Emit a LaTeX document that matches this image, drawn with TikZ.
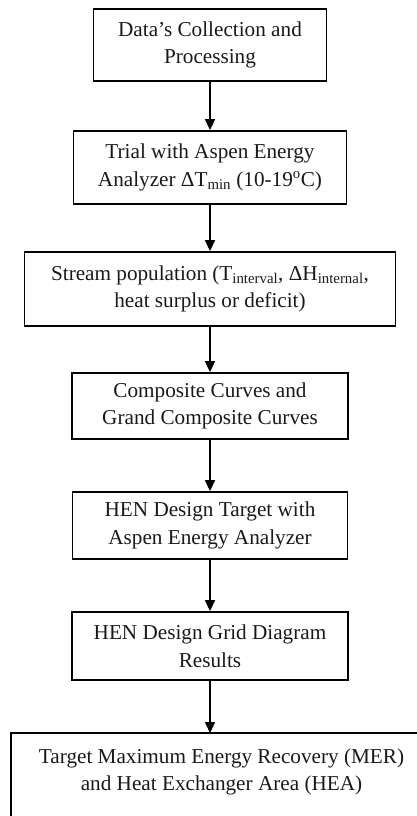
\documentclass[tikz,border=0pt]{standalone}
\usepackage{fontspec}
\setmainfont{Liberation Serif}
\usetikzlibrary{arrows.meta}
\begin{document}
\begin{tikzpicture}[x=1pt,y=-1pt,
  stepbox/.style={draw=black, line width=1.8pt, align=center, inner sep=0pt,
    font=\fontsize{21.2}{27.5}\selectfont, text=black!90},
  flow/.style={draw=black, line width=1.6pt, -{Triangle[width=10pt,length=11pt]}}]
  \useasboundingbox (0,0) rectangle (416,816);

  \node[stepbox, minimum width=233pt, minimum height=72pt] (b1) at (210,45)
    {Data's Collection and\\Processing};
  \node[stepbox, minimum width=273pt, minimum height=73pt] (b2) at (210,167.5)
    {Trial with Aspen Energy\\Analyzer ΔT\textsubscript{min} (10-19\textsuperscript{o}C)};
  \node[stepbox, minimum width=371pt, minimum height=74pt] (b3) at (210,289)
    {Stream population (T\textsubscript{interval}, ΔH\textsubscript{internal},\\heat surplus or deficit)};
  \node[stepbox, minimum width=276pt, minimum height=66pt] (b4) at (210,406)
    {Composite Curves and\\Grand Composite Curves};
  \node[stepbox, minimum width=275pt, minimum height=67pt] (b5) at (210,525.5)
    {HEN Design Target with\\Aspen Energy Analyzer};
  \node[stepbox, minimum width=276pt, minimum height=68pt] (b6) at (210,646)
    {HEN Design Grid Diagram\\Results};

  % last box runs past the right and bottom edges of the page
  \draw[draw=black, line width=1.8pt] (11,860) |- (460,733);
  \node[stepbox, draw=none] (b7) at (221.5,772)
    {Target Maximum Energy Recovery (MER)\\and Heat Exchanger Area (HEA)};
  \coordinate (t7) at (210,733);

  \draw[flow] (b1.south) -- (b2.north);
  \draw[flow] (b2.south) -- (b3.north);
  \draw[flow] (b3.south) -- (b4.north);
  \draw[flow] (b4.south) -- (b5.north);
  \draw[flow] (b5.south) -- (b6.north);
  \draw[flow] (b6.south) -- (t7);
\end{tikzpicture}
\end{document}
